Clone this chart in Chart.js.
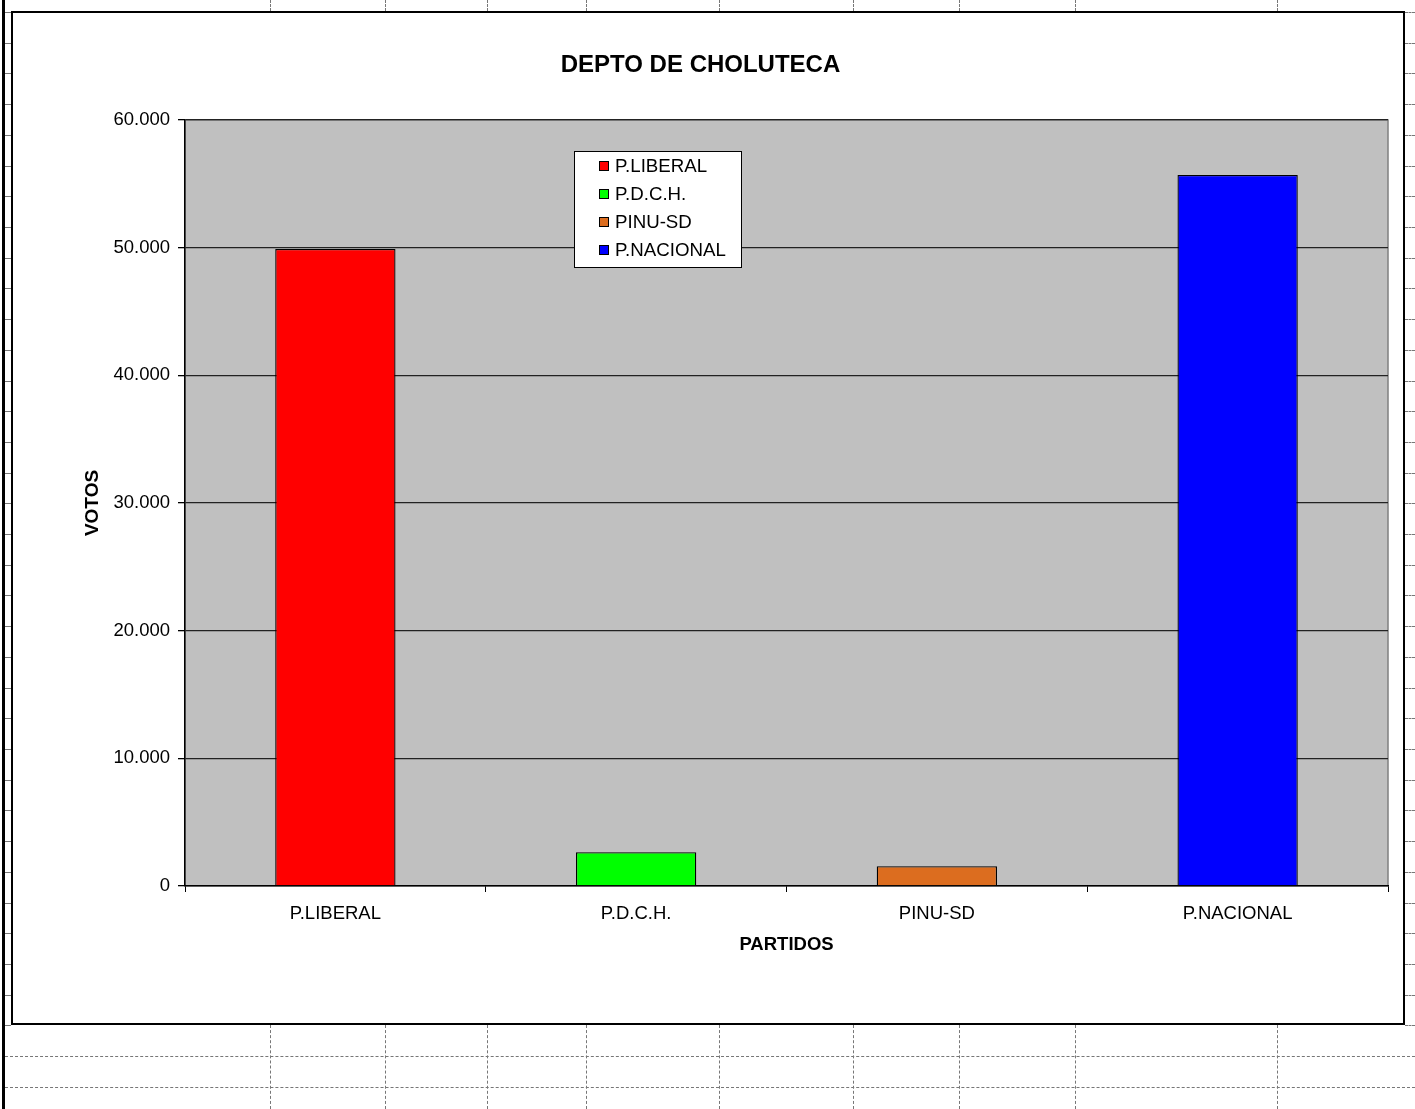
<!DOCTYPE html>
<html>
<head>
<meta charset="utf-8">
<script src="https://cdn.jsdelivr.net/npm/chart.js@4.4.0/dist/chart.umd.min.js"></script>
<style>
  html, body { margin: 0; padding: 0; background: #fff; }
  body { width: 1415px; height: 1109px; position: relative; overflow: hidden; }
  #sheet { position: absolute; left: 0; top: 0; width: 1415px; height: 1109px; }
  #box {
    position: absolute; left: 11px; top: 11px;
    width: 1390px; height: 1010px;
    border: 2px solid #000; background: #fff;
  }
  #box canvas { display: block; }
  .vl { position: absolute; width: 0; border-left: 1px dashed #777; }
  .hl { position: absolute; height: 0; border-top: 1px dashed #777; }
</style>
</head>
<body>
<div id="sheet"></div>
<div id="box"><canvas id="chart" width="1390" height="1010"></canvas></div>
<script>
// ---------- data ----------
const categories = ['P.LIBERAL', 'P.D.C.H.', 'PINU-SD', 'P.NACIONAL'];
const votes = [49900, 2650, 1550, 55700];
const barColors = ['#FF0000', '#00FF00', '#DC6D1F', '#0000FF'];
const yTicks = [0, 10000, 20000, 30000, 40000, 50000, 60000];

const chartTitle = 'DEPTO DE CHOLUTECA';
const xTitle = 'PARTIDOS';
const yTitle = 'VOTOS';

// ---------- spreadsheet grid behind the chart (just decoration) ----------
const sheet = document.getElementById('sheet');
// thick left border of the sheet
let edge = document.createElement('div');
edge.style.cssText = 'position:absolute;left:2px;top:0;width:3px;height:1109px;background:#000';
sheet.appendChild(edge);

const colLines = [270, 385, 487, 586, 719, 853, 959, 1075, 1277];
colLines.forEach(x => {
    let top = document.createElement('div');
    top.className = 'vl';
    top.style.left = x + 'px'; top.style.top = '0px'; top.style.height = '11px';
    sheet.appendChild(top);
    let bottom = document.createElement('div');
    bottom.className = 'vl';
    bottom.style.left = x + 'px'; bottom.style.top = '1025px'; bottom.style.height = '84px';
    sheet.appendChild(bottom);
});
for (let k = 0; k < 36; k++) {
    let y = Math.round(12 + 30.71 * k);
    if (y < 1030) {
        let l = document.createElement('div');
        l.className = 'hl';
        l.style.left = '5px'; l.style.top = y + 'px'; l.style.width = '6px';
        sheet.appendChild(l);
        let r = document.createElement('div');
        r.className = 'hl';
        r.style.left = '1405px'; r.style.top = y + 'px'; r.style.width = '10px';
        sheet.appendChild(r);
    } else {
        let full = document.createElement('div');
        full.className = 'hl';
        full.style.left = '5px'; full.style.top = y + 'px'; full.style.width = '1410px';
        sheet.appendChild(full);
    }
}

// ---------- helpers ----------
function formatThousands(v) {
    return String(v).replace(/\B(?=(\d{3})+(?!\d))/g, '.');
}

const FONT = "'Liberation Sans', Arial, sans-serif";

// gray plot area like excel
const plotBackground = {
    id: 'plotBackground',
    beforeDraw(chart) {
        const {ctx, chartArea: a} = chart;
        ctx.save();
        ctx.fillStyle = '#C0C0C0';
        ctx.fillRect(a.left, a.top, a.right - a.left, a.bottom - a.top);
        ctx.strokeStyle = '#808080';
        ctx.lineWidth = 1.5;
        ctx.strokeRect(a.left, a.top, a.right - a.left, a.bottom - a.top);
        ctx.restore();
    }
};

// legend box inside the plot area, one entry per category
const boxLegend = {
    id: 'boxLegend',
    afterDraw(chart) {
        const {ctx, chartArea: a} = chart;
        const left = a.left + 389, top = a.top + 31;
        const w = 167, h = 116;
        ctx.save();
        ctx.fillStyle = '#fff';
        ctx.fillRect(left, top, w, h);
        ctx.strokeStyle = '#000';
        ctx.lineWidth = 1;
        ctx.strokeRect(left + 0.5, top + 0.5, w, h);
        ctx.font = '18.7px ' + FONT;
        ctx.textBaseline = 'middle';
        categories.forEach((name, i) => {
            const cy = top + 15 + i * 28;
            ctx.fillStyle = barColors[i];
            ctx.fillRect(left + 25, cy - 5, 10, 10);
            ctx.strokeStyle = '#000';
            ctx.strokeRect(left + 25.5, cy - 4.5, 9, 9);
            ctx.fillStyle = '#000';
            ctx.fillText(name, left + 41, cy + 1);
        });
        ctx.restore();
    }
};

// ---------- chart ----------
let chart = new Chart(document.getElementById('chart'), {
    type: 'bar',
    data: {
        labels: categories,
        datasets: [{
            label: yTitle,
            data: votes,
            backgroundColor: barColors,
            borderColor: '#000',
            borderWidth: 1.3,
            borderSkipped: 'bottom',
            barPercentage: 0.4,
            categoryPercentage: 1.0
        }]
    },
    options: {
        responsive: false,
        animation: false,
        layout: { padding: { left: 0, right: 15, top: 0, bottom: 0 } },
        plugins: {
            legend: { display: false },
            tooltip: { enabled: false },
            title: {
                display: true,
                text: chartTitle,
                color: '#000',
                font: { family: FONT, size: 24, weight: 'bold' },
                padding: { top: 37.6, bottom: 40.6 }
            }
        },
        scales: {
            x: {
                afterFit(scale) { scale.height = 137; },
                grid: {
                    offset: true,
                    drawOnChartArea: false,
                    color: '#000',
                    tickLength: 6
                },
                border: { color: '#000', width: 1.3 },
                ticks: {
                    color: '#000',
                    padding: 11,
                    font: { family: FONT, size: 18.5 }
                },
                title: {
                    display: true,
                    text: xTitle,
                    color: '#000',
                    font: { family: FONT, size: 18.5, weight: 'bold' },
                    padding: { top: 0, bottom: 66.6 }
                }
            },
            y: {
                min: 0,
                max: 60000,
                afterFit(scale) { scale.width = 172; },
                afterBuildTicks(scale) { scale.ticks = yTicks.map(v => ({ value: v })); },
                grid: {
                    color: '#222',
                    tickColor: '#000',
                    lineWidth: 1.3,
                    tickLength: 7
                },
                border: { color: '#000', width: 1.5 },
                ticks: {
                    color: '#000',
                    padding: 8,
                    font: { family: FONT, size: 18.5 },
                    callback: v => formatThousands(v)
                },
                title: {
                    display: true,
                    text: yTitle,
                    color: '#000',
                    font: { family: FONT, size: 19, weight: 'bold' },
                    padding: { top: 68.6, bottom: 0 }
                }
            }
        }
    },
    plugins: [plotBackground, boxLegend]
});
</script>
</body>
</html>
